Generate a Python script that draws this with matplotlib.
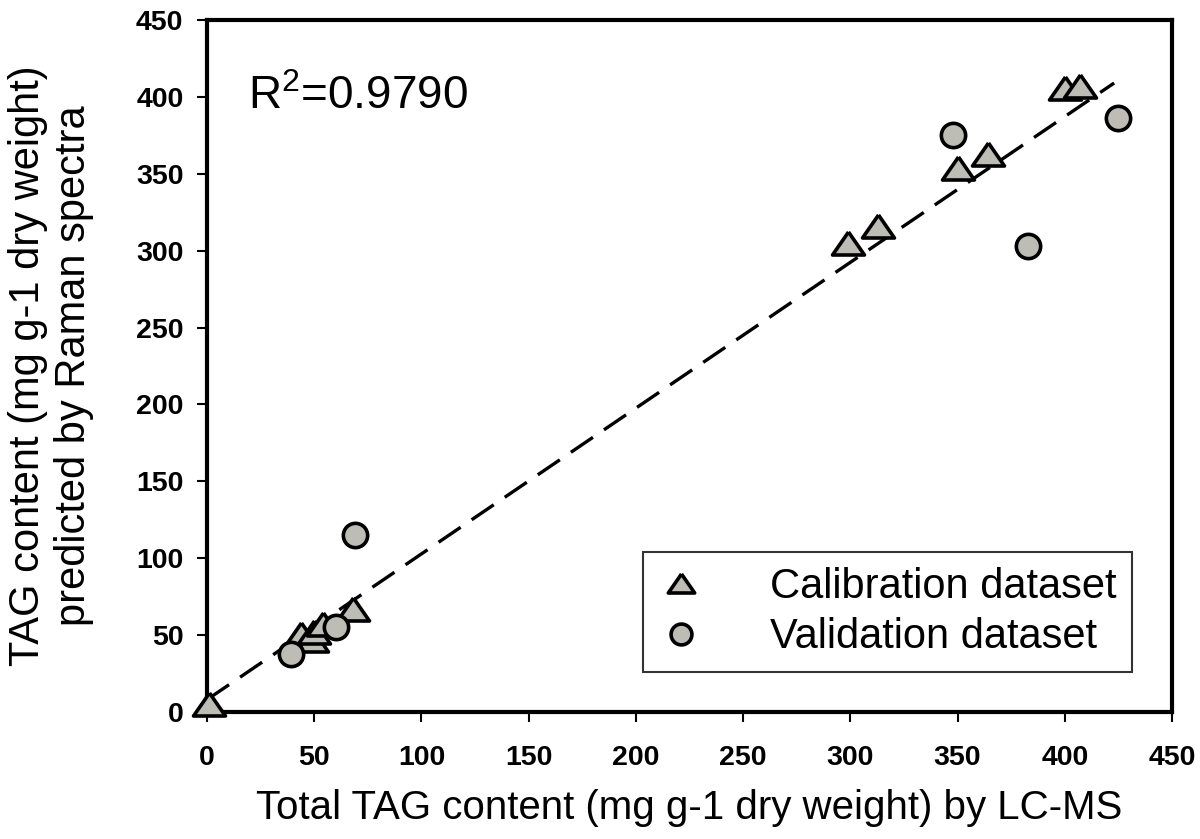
import matplotlib
matplotlib.use("Agg")
import matplotlib.pyplot as plt

plt.rcParams['font.family'] = ['Liberation Sans', 'DejaVu Sans']
plt.rcParams['mathtext.fontset'] = 'custom'
plt.rcParams['mathtext.rm'] = 'Liberation Sans'
plt.rcParams['mathtext.it'] = 'Liberation Sans'

# calibration points (LC-MS vs Raman predicted)
cal_x = [1, 44, 49, 50, 54, 68, 299, 313, 350, 364, 400, 407]
cal_y = [5, 51, 47, 52, 57, 67, 305, 316, 354, 363, 406, 407]
# validation points
val_x = [39, 60, 69, 348, 383, 425]
val_y = [38, 55, 115, 375, 303, 386]
# regression line end points
fit_x = [0, 423]
fit_y = [8, 409]

ticks = [0, 50, 100, 150, 200, 250, 300, 350, 400, 450]
face = '#bdbdb5'
tri = [(0, 0.72), (-1, -0.72), (1, -0.72), (0, 0.72)]

fig = plt.figure(figsize=(12, 8.39), dpi=100)
ax = fig.add_axes([0.1725, 0.1514, 0.8042, 0.8248])

ax.plot(fit_x, fit_y, color='black', lw=2.4, dashes=(8, 4), zorder=1)
ax.plot(cal_x, cal_y, ls='none', marker=tri, ms=23, mfc=face, mec='black',
        mew=2.6, label='Calibration dataset', zorder=3, clip_on=False)
ax.plot(val_x, val_y, ls='none', marker='o', ms=17.5, mfc=face, mec='black',
        mew=2.6, label='Validation dataset', zorder=3, clip_on=False)

ax.set_xlim(0, 450)
ax.set_ylim(0, 450)
ax.set_xticks(ticks)
ax.set_yticks(ticks)
for lab in ax.get_xticklabels() + ax.get_yticklabels():
    lab.set_fontweight('bold')
ax.tick_params(axis='x', direction='out', length=7, width=1.5, labelsize=20.5, pad=17)
ax.tick_params(axis='y', direction='out', length=7, width=1.5, labelsize=20.5, pad=10)
for s in ax.spines.values():
    s.set_linewidth(3)

ax.set_xlabel('Total TAG content (mg g-1 dry weight) by LC-MS', fontsize=29, labelpad=13)
ax.set_ylabel('TAG content (mg g-1 dry weight)\npredicted by Raman spectra', fontsize=30,
              labelpad=30, linespacing=1.2)

ax.text(0.042, 0.889, r'R$^2$=0.9790', transform=ax.transAxes, fontsize=33,
        va='center', ha='left')

leg = ax.legend(loc='lower right', bbox_to_anchor=(0.958, 0.058), fontsize=30,
                frameon=True, fancybox=False, edgecolor='black', handletextpad=1.6,
                borderpad=0.35, labelspacing=0.25, handlelength=1.1, borderaxespad=0)
leg.get_frame().set_linewidth(1.5)
leg.legend_handles[0].set_markersize(19)
leg.legend_handles[1].set_markersize(15)

fig.savefig('out.png', dpi=100)
